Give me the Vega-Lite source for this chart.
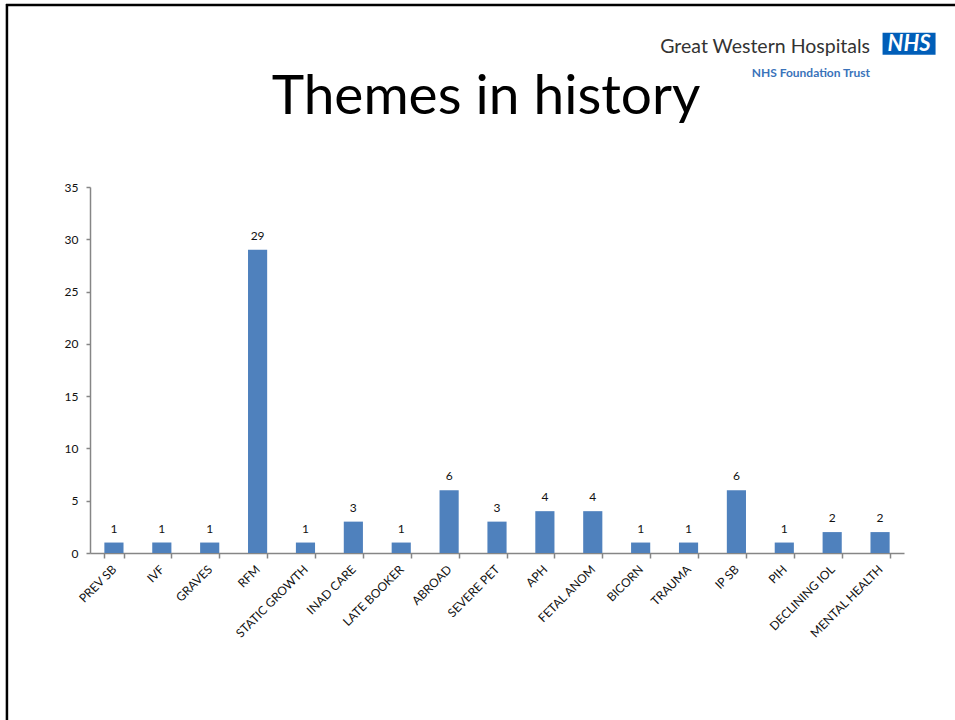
{
  "$schema": "https://vega.github.io/schema/vega-lite/v6.json",
  "width": 814,
  "height": 366,
  "autosize": {"type": "none"},
  "padding": {"left": 90, "top": 187, "right": 51, "bottom": 167},
  "background": "white",
  "config": {
    "view": {"stroke": null},
    "font": "Lato",
    "axis": {
      "labelFont": "Lato",
      "labelFontSize": 12,
      "labelColor": "#111111",
      "domainColor": "#868686",
      "tickColor": "#868686",
      "domainWidth": 1.5,
      "tickWidth": 1.5,
      "title": null,
      "grid": false
    }
  },
  "title": {
    "text": "Themes in history",
    "font": "Lato",
    "fontSize": 55,
    "fontWeight": "normal",
    "color": "#000000",
    "anchor": "middle",
    "frame": "group",
    "baseline": "alphabetic",
    "dx": -11,
    "offset": -166
  },
  "data": {
    "values": [
      {"theme": "PREV SB", "count": 1},
      {"theme": "IVF", "count": 1},
      {"theme": "GRAVES", "count": 1},
      {"theme": "RFM", "count": 29},
      {"theme": "STATIC GROWTH", "count": 1},
      {"theme": "INAD CARE", "count": 3},
      {"theme": "LATE BOOKER", "count": 1},
      {"theme": "ABROAD", "count": 6},
      {"theme": "SEVERE PET", "count": 3},
      {"theme": "APH", "count": 4},
      {"theme": "FETAL ANOM", "count": 4},
      {"theme": "BICORN", "count": 1},
      {"theme": "TRAUMA", "count": 1},
      {"theme": "IP SB", "count": 6},
      {"theme": "PIH", "count": 1},
      {"theme": "DECLINING IOL", "count": 2},
      {"theme": "MENTAL HEALTH", "count": 2}
    ]
  },
  "layer": [
    {
      "mark": {"type": "bar", "color": "#4F81BD"},
      "encoding": {
        "x": {
          "field": "theme",
          "type": "nominal",
          "sort": null,
          "scale": {"paddingInner": 0.6, "paddingOuter": 0.3},
          "axis": {
            "labelAngle": -45,
            "labelAlign": "right",
            "labelBaseline": "middle",
            "labelPadding": 9,
            "tickBand": "extent",
            "tickSize": 5
          }
        },
        "y": {
          "field": "count",
          "type": "quantitative",
          "scale": {"domain": [0, 35], "nice": false},
          "axis": {"values": [0, 5, 10, 15, 20, 25, 30, 35], "tickSize": 4, "labelPadding": 8}
        }
      }
    },
    {
      "mark": {"type": "text", "baseline": "alphabetic", "dy": -10, "fontSize": 12, "font": "Lato", "color": "#111111"},
      "encoding": {
        "x": {"field": "theme", "type": "nominal", "sort": null},
        "y": {"field": "count", "type": "quantitative"},
        "text": {"field": "count", "type": "quantitative"}
      }
    },
    {
      "data": {"values": [{"label": "Great Western Hospitals"}]},
      "mark": {"type": "text", "align": "right", "baseline": "alphabetic", "font": "Lato", "fontSize": 19.5, "color": "#333333", "xOffset": -10},
      "encoding": {
        "x": {"datum": "MENTAL HEALTH"},
        "y": {"datum": 47.8},
        "text": {"field": "label"}
      }
    },
    {
      "data": {"values": [{"label": "NHS Foundation Trust"}]},
      "mark": {"type": "text", "align": "right", "baseline": "alphabetic", "font": "Lato", "fontSize": 12, "fontWeight": "bold", "color": "#3A73BA", "xOffset": -10},
      "encoding": {
        "x": {"datum": "MENTAL HEALTH"},
        "y": {"datum": 45.5},
        "text": {"field": "label"}
      }
    },
    {
      "data": {"values": [{"label": "NHS"}]},
      "mark": {"type": "point", "shape": "M-1,-0.415L1,-0.415L1,0.415L-1,0.415Z", "size": 2809, "filled": true, "color": "#005EB8", "opacity": 1, "xOffset": 29},
      "encoding": {
        "x": {"datum": "MENTAL HEALTH"},
        "y": {"datum": 48.7}
      }
    },
    {
      "data": {"values": [{"label": "NHS"}]},
      "mark": {"type": "text", "align": "center", "baseline": "middle", "font": "Lato", "fontSize": 22, "fontWeight": "bold", "fontStyle": "italic", "color": "#ffffff", "xOffset": 29},
      "encoding": {
        "x": {"datum": "MENTAL HEALTH"},
        "y": {"datum": 48.7},
        "text": {"field": "label"}
      }
    },
    {
      "data": {"values": [{"edge": "top"}]},
      "mark": {"type": "rule", "color": "#000000", "strokeWidth": 2.5, "yOffset": -182, "xOffset": -108, "x2Offset": 75},
      "encoding": {
        "x": {"datum": "PREV SB"},
        "x2": {"datum": "MENTAL HEALTH"},
        "y": {"datum": 35}
      }
    },
    {
      "data": {"values": [{"edge": "left"}]},
      "mark": {"type": "rule", "color": "#000000", "strokeWidth": 2.5, "xOffset": -107, "yOffset": -183, "y2Offset": 167},
      "encoding": {
        "x": {"datum": "PREV SB"},
        "y": {"datum": 35},
        "y2": {"datum": 0}
      }
    }
  ]
}
